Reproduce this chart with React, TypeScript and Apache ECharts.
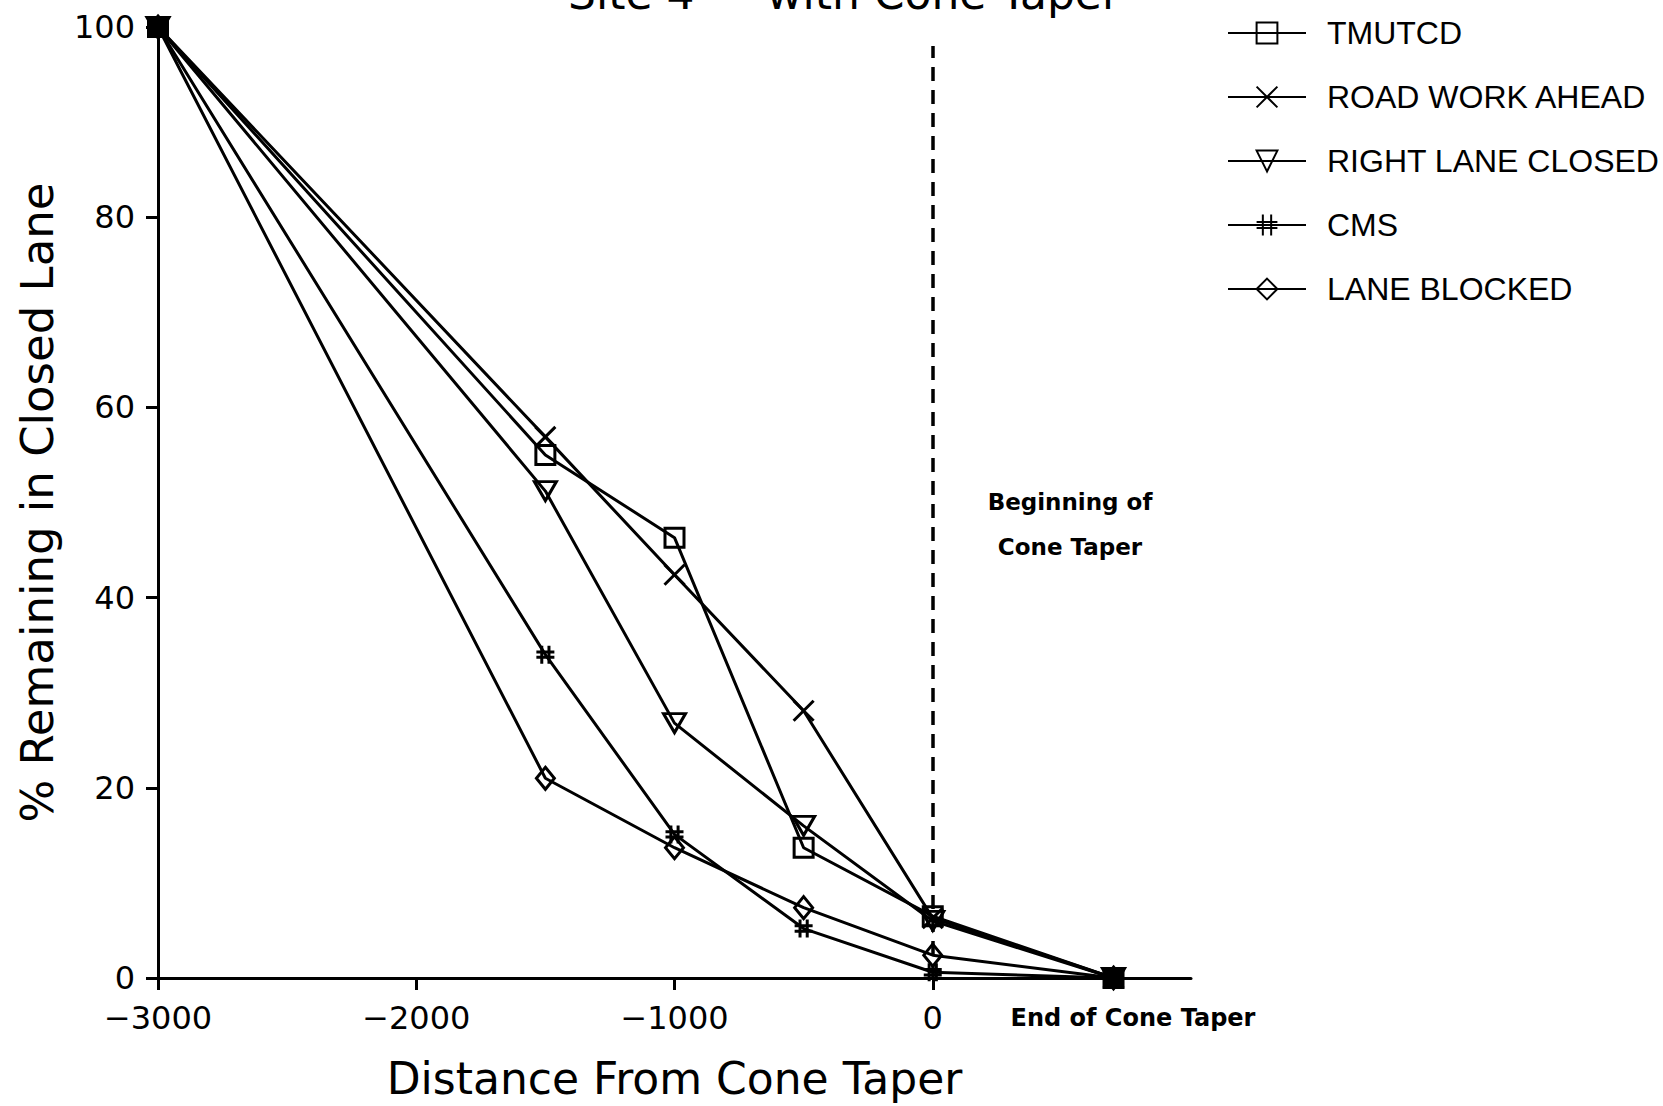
import React, { useEffect, useRef } from "react";
import * as echarts from "echarts";

const distances = [-3000, -1500, -1000, -500, 0, 700];
const tmutcd = [100, 55.0, 46.3, 13.7, 6.5, 0];
const roadWorkAhead = [100, 56.9, 42.4, 28.1, 6.3, 0];
const rightLaneClosed = [100, 51.2, 26.8, 16.0, 6.0, 0];
const cms = [100, 34.0, 15.1, 5.2, 0.6, 0];
const laneBlocked = [100, 21.0, 13.7, 7.4, 2.4, 0];

const xTicks = [-3000, -2000, -1000, 0];
const yTicks = [0, 20, 40, 60, 80, 100];
const taperStart = 0;
const dashedTop = 98;

const FONT = "DejaVu Sans";

function makeSeries(name: string, values: number[], symbol: string, symbolSize: any, extra: any = {}, filledEnds = false) {
  return {
    name,
    type: "line",
    data: distances.map((x, i) => {
      const item: any = { value: [x, values[i]] };
      if (filledEnds && (i === 0 || i === distances.length - 1)) {
        item.itemStyle = { color: "#000" };
      }
      return item;
    }),
    symbol,
    symbolSize,
    symbolKeepAspect: true,
    showAllSymbol: true,
    lineStyle: { color: "#000", width: 3 },
    itemStyle: { color: "none", borderColor: "#000", borderWidth: 3 },
    emphasis: { disabled: true },
    z: 3,
    ...extra,
  };
}

export default function App() {
  const ref = useRef<HTMLDivElement>(null);
  useEffect(() => {
    const chart = echarts.init(ref.current!, null, { renderer: "svg" });
    const option: any = {
      animation: false,
      backgroundColor: "#fff",
      grid: {
        left: 158,
        right: 472,
        top: 27,
        bottom: 128,
        containLabel: false,
        outerBoundsMode: "none",
      },
      legend: {
        orient: "vertical",
        left: 1222,
        top: 12,
        itemWidth: 78,
        itemHeight: 26,
        itemGap: 32,
        selectedMode: false,
        textStyle: {
          fontFamily: "Liberation Sans",
          fontSize: 32,
          color: "#000",
          padding: [0, 0, 0, 16],
        },
      },
      xAxis: {
        type: "value",
        min: -3000,
        max: 1000,
        interval: 1000,
        name: "Distance From Cone Taper",
        nameLocation: "middle",
        nameGap: 78,
        nameTextStyle: { fontFamily: FONT, fontSize: 44, color: "#000" },
        axisLine: { show: true, onZero: false, lineStyle: { color: "#000", width: 3 } },
        axisTick: { show: true, length: 12, customValues: xTicks, lineStyle: { color: "#000", width: 3 } },
        axisLabel: {
          customValues: xTicks,
          margin: 24,
          fontFamily: FONT,
          fontSize: 32,
          color: "#000",
          formatter: (v: number) => (v < 0 ? "\u2212" + Math.abs(v) : String(v)),
        },
        splitLine: { show: false },
      },
      yAxis: {
        type: "value",
        min: 0,
        max: 100,
        interval: 20,
        name: "% Remaining in Closed Lane",
        nameLocation: "middle",
        nameGap: 98,
        nameTextStyle: { fontFamily: FONT, fontSize: 45, color: "#000" },
        axisLine: { show: true, onZero: false, lineStyle: { color: "#000", width: 3 } },
        axisTick: { show: true, length: 12, customValues: yTicks, lineStyle: { color: "#000", width: 3 } },
        axisLabel: { customValues: yTicks, margin: 23, fontFamily: FONT, fontSize: 32, color: "#000" },
        splitLine: { show: false },
      },
      series: [
        makeSeries("TMUTCD", tmutcd, "rect", 19, {
          markLine: {
            silent: true,
            symbol: ["none", "none"],
            label: { show: false },
            lineStyle: { color: "#000", width: 3.5, type: [14, 9] },
            data: [[{ coord: [taperStart, 0] }, { coord: [taperStart, dashedTop] }]],
          },
        }, true),
        makeSeries("ROAD WORK AHEAD", roadWorkAhead, "path://M0,0L20,20M20,0L0,20", 20),
        makeSeries("RIGHT LANE CLOSED", rightLaneClosed, "triangle", [22, 19], { symbolRotate: 180 }),
        makeSeries("CMS", cms, "path://M6,0L6,20M14,0L14,20M0,7L20,7M0,13L20,13", 18),
        makeSeries("LANE BLOCKED", laneBlocked, "diamond", [18, 22]),
      ],
      graphic: [
        {
          type: "text",
          x: 844,
          y: -7,
          style: { text: "Site 4 \u2014 with Cone Taper", fontFamily: FONT, fontSize: 44, fill: "#000", align: "center", verticalAlign: "middle" },
        },
        {
          type: "text",
          x: 1070,
          y: 502,
          style: { text: "Beginning of", fontFamily: FONT, fontWeight: "bold", fontSize: 23, fill: "#000", align: "center", verticalAlign: "middle" },
        },
        {
          type: "text",
          x: 1070,
          y: 547,
          style: { text: "Cone Taper", fontFamily: FONT, fontWeight: "bold", fontSize: 23, fill: "#000", align: "center", verticalAlign: "middle" },
        },
        {
          type: "text",
          x: 1133,
          y: 1018,
          style: { text: "End of Cone Taper", fontFamily: FONT, fontWeight: "bold", fontSize: 24, fill: "#000", align: "center", verticalAlign: "middle" },
        },
      ],
    };
    chart.setOption(option);
    return () => chart.dispose();
  }, []);
  return (
    <div
      ref={ref}
      style={{ position: "absolute", left: 0, top: 0, width: 1663, height: 1106, background: "#fff" }}
    />
  );
}
